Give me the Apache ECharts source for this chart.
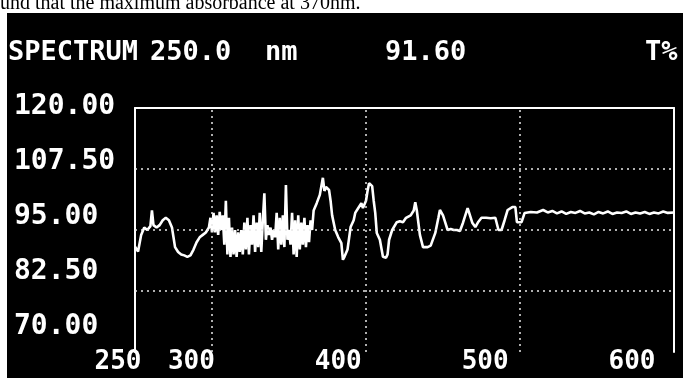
<!DOCTYPE html>
<html>
<head>
<meta charset="utf-8">
<script src="https://cdn.jsdelivr.net/npm/echarts@6.0.0/dist/echarts.min.js"></script>
<style>
  html, body { margin: 0; padding: 0; background: #fff; }
  #chart { width: 683px; height: 378px; }
</style>
</head>
<body>
<div id="chart"></div>
<script>
// ---- data ----
const wavelengths = [
  250,252,254,256,258,260,261,262,264,266,268,270,272,274,275,276,278,280,282,284,286,288,290,292,294,296,298,
  299,300,301,302,303,304,305,306,307,308,309,310,311,312,313,314,315,316,317,318,319,320,321,322,323,324,325,
  326,327,328,329,330,331,332,333,334,335,336,337,338,339,340,341,342,343,344,345,346,347,348,349,350,351,352,
  353,354,355,356,357,358,359,360,361,362,363,364,365,366,
  368,370,372,373,374,376,377,378,380,382,384,385,386,388,390,392,393,395,397,398,400,401,402,404,405,406,407,
  409,411,413,414,415,417,420,422,424,426,429,431,432,433,435,437,440,442,445,447,448,450,452,453,455,457,459,
  461,463,465,466,467,469,471,473,475,478,481,484,486,488,490,492,495,497,498,501,503,507,511,515,518,521,524,
  527,530,533,536,539,542,545,548,551,554,557,560,563,566,569,572,575,578,581,584,587,590,593,596,600
];
const transmittance = [
  91.6,90.6,94.0,95.5,95.0,95.8,99.0,96.0,95.5,96.0,97.0,97.5,97.0,95.5,93.5,91.5,90.5,90.0,89.8,89.5,89.8,91.0,92.5,93.5,94.0,94.5,95.5,
  97.5,94.5,98.5,94.5,98.0,94.0,98.7,95.0,98.0,92.0,101.0,90.0,97.5,89.5,95.5,90.0,95.0,89.5,94.5,90.5,95.0,90.0,96.5,91.0,97.5,90.0,96.0,
  92.0,98.0,90.5,96.5,91.5,98.5,90.5,97.0,102.5,93.0,96.0,94.0,95.5,93.0,95.0,93.5,98.5,91.0,97.5,92.0,98.0,91.5,104.2,93.0,95.0,92.0,98.5,
  90.0,97.0,89.5,98.0,91.0,96.5,92.0,97.5,91.5,96.0,92.5,97.0,95.0,99.0,
  100.5,102.2,105.7,103.0,103.8,103.2,101.0,98.0,95.0,93.5,92.3,88.9,89.5,91.0,95.6,97.0,98.5,99.5,100.5,99.5,101.0,103.0,104.6,104.0,101.0,98.5,94.4,
  93.0,89.5,89.3,90.0,93.0,95.0,96.6,96.8,96.6,97.5,98.0,99.0,100.7,99.0,94.0,91.5,91.5,91.8,94.4,97.5,99.1,98.0,96.0,95.0,95.2,95.0,95.0,
  94.8,96.5,98.5,99.5,98.5,96.5,95.6,96.7,97.5,97.5,97.4,97.5,95.0,95.0,97.0,99.1,99.7,99.7,96.6,96.6,98.5,98.7,98.6,99.1,98.6,98.9,98.4,
  98.8,98.3,98.7,98.5,98.9,98.4,98.6,98.2,98.7,98.4,98.8,98.3,98.6,98.5,98.8,98.3,98.6,98.4,98.7,98.3,98.6,98.4,98.8,98.5,98.6
];
const yTickLabels = ['70.00', '82.50', '95.00', '107.50', '120.00'];
const xTickLabels = [250, 300, 400, 500, 600];
const xGridLines = [300, 400, 500];
const yGridLines = [107.5, 95, 82.5];
const headerTexts = ['SPECTRUM', '250.0', 'nm', '91.60', 'T%'];
const captionText = 'und that the maximum absorbance at 370nm.';

// ---- chart ----
const chart = echarts.init(document.getElementById('chart'), null, { renderer: 'canvas' });
const MONO = '"DejaVu Sans Mono", monospace';
const headerX = [8, 150, 265, 385, 645];

const seriesData = wavelengths.map((w, i) => [w, transmittance[i]]);
const dotted = { color: '#e8e8e8', width: 1.5, type: [2, 4] };

const option = {
  animation: false,
  backgroundColor: '#000',
  grid: [
    { left: 135, right: 9, top: 108, bottom: 26 },      // plot
    { left: 140, width: 10, top: 107, bottom: 51 },     // y tick labels
    { left: 118, right: 51, top: 100, bottom: 35 }      // x tick labels
  ],
  xAxis: [
    { gridIndex: 0, type: 'value', min: 250, max: 600, show: false },
    { gridIndex: 0, type: 'value', min: 250, max: 600, position: 'top',
      axisLine: { show: true, lineStyle: { color: '#fff', width: 2 } },
      axisTick: { show: false }, axisLabel: { show: false }, splitLine: { show: false } },
    { gridIndex: 1, type: 'value', show: false },
    { gridIndex: 2, type: 'value', min: 250, max: 600, interval: 50,
      axisLine: { show: false }, axisTick: { show: false }, splitLine: { show: false },
      axisLabel: {
        show: true, margin: 6, color: '#fff', fontFamily: MONO, fontWeight: 'bold', fontSize: 26,
        showMinLabel: true, showMaxLabel: true,
        formatter: v => xTickLabels.includes(v) ? String(v) : ''
      } }
  ],
  yAxis: [
    { gridIndex: 0, type: 'value', min: 70, max: 120,
      axisLine: { show: true, lineStyle: { color: '#fff', width: 2 } },
      axisTick: { show: false }, axisLabel: { show: false }, splitLine: { show: false } },
    { gridIndex: 0, type: 'value', min: 70, max: 120, position: 'right',
      axisLine: { show: true, lineStyle: { color: '#fff', width: 2 } },
      axisTick: { show: false }, axisLabel: { show: false }, splitLine: { show: false } },
    { gridIndex: 1, type: 'category', data: yTickLabels, boundaryGap: false,
      axisLine: { show: false }, axisTick: { show: false }, splitLine: { show: false },
      axisLabel: { show: true, interval: 0, align: 'left', margin: 126, color: '#fff',
        fontFamily: MONO, fontWeight: 'bold', fontSize: 28 } },
    { gridIndex: 2, type: 'value', show: false }
  ],
  series: [{
    type: 'line',
    xAxisIndex: 0, yAxisIndex: 0,
    data: seriesData,
    showSymbol: false,
    lineStyle: { color: '#fff', width: 2.6 },
    itemStyle: { color: '#fff' },
    silent: true,
    markLine: {
      silent: true, symbol: 'none', label: { show: false }, lineStyle: dotted,
      data: xGridLines.map(v => ({ xAxis: v })).concat(yGridLines.map(v => ({ yAxis: v })))
    }
  }],
  graphic: [
    { type: 'rect', left: 0, top: 0, shape: { width: 683, height: 13 }, style: { fill: '#fff' }, z: 10 },
    { type: 'rect', left: 0, top: 0, shape: { width: 7, height: 378 }, style: { fill: '#fff' }, z: 10 },
    { type: 'text', x: 0, y: 14, z: 11,
      style: { text: captionText, fill: '#000', font: '20px "Liberation Serif", serif', verticalAlign: 'bottom' } }
  ].concat(headerTexts.map((t, i) => ({
    type: 'text', x: headerX[i], y: 53, z: 11,
    style: { text: t, fill: '#fff', font: 'bold 27px ' + MONO, verticalAlign: 'middle' }
  })))
};
chart.setOption(option);
</script>
</body>
</html>
